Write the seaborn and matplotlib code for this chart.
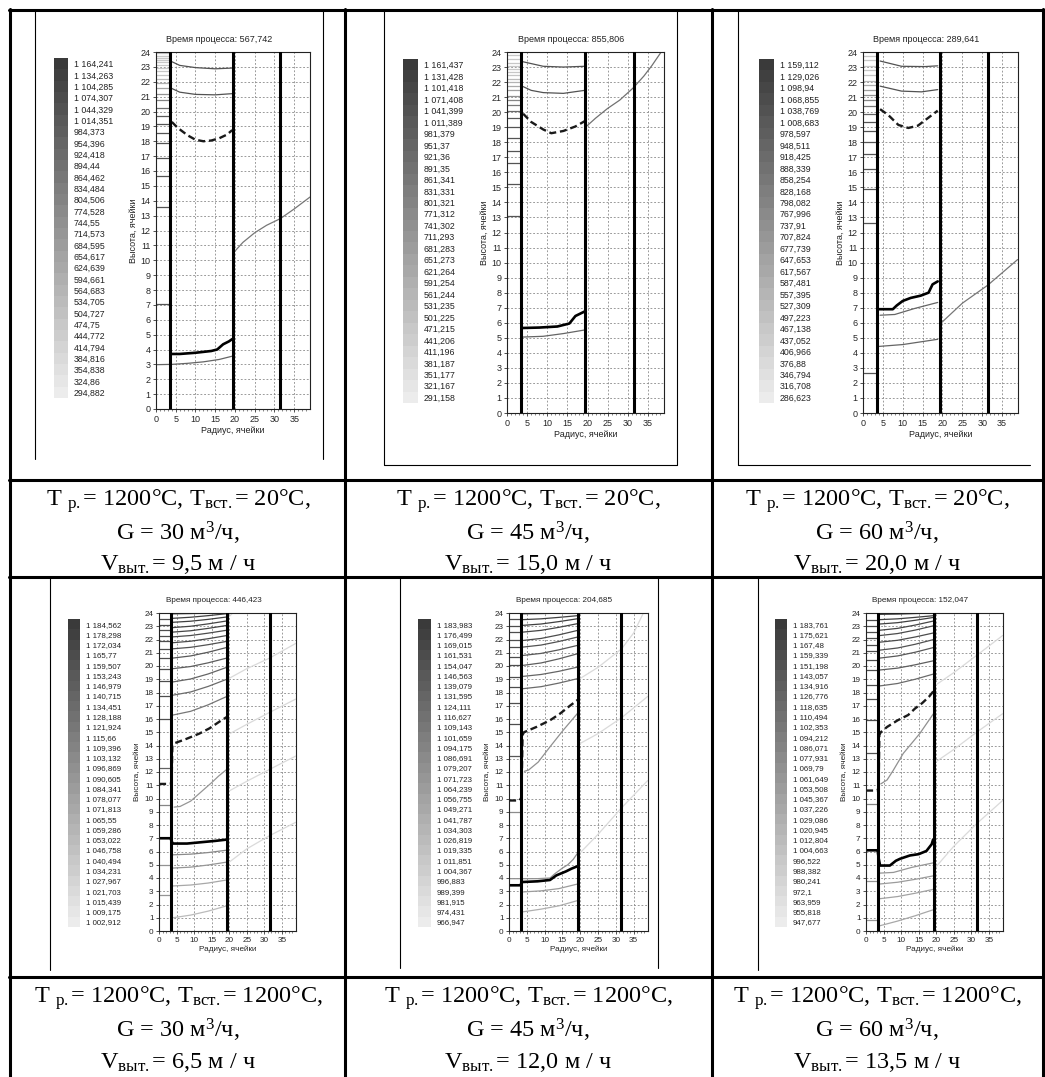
import numpy as np
import matplotlib
matplotlib.use("Agg")
import matplotlib.pyplot as plt
from matplotlib.colors import LinearSegmentedColormap
import seaborn as sns

## --- style first, fonts after set_theme (it resets font.family)
sns.set_theme(style="white")
plt.rcParams["font.family"] = ["Liberation Sans", "DejaVu Sans"]
plt.rcParams["mathtext.fontset"] = "custom"
plt.rcParams["mathtext.rm"] = "Liberation Serif"
plt.rcParams["mathtext.it"] = "Liberation Serif:italic"
plt.rcParams["mathtext.bf"] = "Liberation Serif:bold"

#########################################################################
################################ DATA ###################################
#########################################################################

## --- process times shown over every chart
times = ["567,742", "855,806", "289,641", "446,423", "204,685", "152,047"]

## --- colour scale labels (top = hottest)
cb_1 = ["1 164,241", "1 134,263", "1 104,285", "1 074,307", "1 044,329", "1 014,351",
        "984,373", "954,396", "924,418", "894,44", "864,462", "834,484", "804,506",
        "774,528", "744,55", "714,573", "684,595", "654,617", "624,639", "594,661",
        "564,683", "534,705", "504,727", "474,75", "444,772", "414,794", "384,816",
        "354,838", "324,86", "294,882"]
cb_2 = ["1 161,437", "1 131,428", "1 101,418", "1 071,408", "1 041,399", "1 011,389",
        "981,379", "951,37", "921,36", "891,35", "861,341", "831,331", "801,321",
        "771,312", "741,302", "711,293", "681,283", "651,273", "621,264", "591,254",
        "561,244", "531,235", "501,225", "471,215", "441,206", "411,196", "381,187",
        "351,177", "321,167", "291,158"]
cb_3 = ["1 159,112", "1 129,026", "1 098,94", "1 068,855", "1 038,769", "1 008,683",
        "978,597", "948,511", "918,425", "888,339", "858,254", "828,168", "798,082",
        "767,996", "737,91", "707,824", "677,739", "647,653", "617,567", "587,481",
        "557,395", "527,309", "497,223", "467,138", "437,052", "406,966", "376,88",
        "346,794", "316,708", "286,623"]
cb_4 = ["1 184,562", "1 178,298", "1 172,034", "1 165,77", "1 159,507", "1 153,243",
        "1 146,979", "1 140,715", "1 134,451", "1 128,188", "1 121,924", "1 115,66",
        "1 109,396", "1 103,132", "1 096,869", "1 090,605", "1 084,341", "1 078,077",
        "1 071,813", "1 065,55", "1 059,286", "1 053,022", "1 046,758", "1 040,494",
        "1 034,231", "1 027,967", "1 021,703", "1 015,439", "1 009,175", "1 002,912"]
cb_5 = ["1 183,983", "1 176,499", "1 169,015", "1 161,531", "1 154,047", "1 146,563",
        "1 139,079", "1 131,595", "1 124,111", "1 116,627", "1 109,143", "1 101,659",
        "1 094,175", "1 086,691", "1 079,207", "1 071,723", "1 064,239", "1 056,755",
        "1 049,271", "1 041,787", "1 034,303", "1 026,819", "1 019,335", "1 011,851",
        "1 004,367", "996,883", "989,399", "981,915", "974,431", "966,947"]
cb_6 = ["1 183,761", "1 175,621", "1 167,48", "1 159,339", "1 151,198", "1 143,057",
        "1 134,916", "1 126,776", "1 118,635", "1 110,494", "1 102,353", "1 094,212",
        "1 086,071", "1 077,931", "1 069,79", "1 061,649", "1 053,508", "1 045,367",
        "1 037,226", "1 029,086", "1 020,945", "1 012,804", "1 004,663", "996,522",
        "988,382", "980,241", "972,1", "963,959", "955,818", "947,677"]

## --- wall positions (radius, cells)
walls = [3.5, 19.4, 31.5]

## --- isoline stubs inside the narrow zone (heights)
stubs_1 = [7.05, 13.55, 15.65, 16.9, 17.85, 18.55, 19.15, 19.7, 20.25, 20.75, 21.15,
           21.55, 21.9, 22.2, 22.45, 22.7, 22.9, 23.1, 23.3, 23.45, 23.6, 23.75, 23.9]
stubs_2 = [13.1, 15.25, 16.6, 17.4, 18.3, 19.0, 19.6, 20.05, 20.5, 20.8, 21.1, 21.45,
           21.75, 22.0, 22.2, 22.45, 22.7, 22.9, 23.1, 23.3, 23.55, 23.8]
stubs_3 = [2.65, 12.65, 14.9, 16.25, 17.25, 18.0, 18.75, 19.35, 19.9, 20.4, 20.8,
           21.15, 21.45, 21.8, 22.1, 22.45, 22.8, 23.1, 23.45, 23.75]
stubs_4 = [2.75, 5.0, 9.5, 12.3, 16.0, 17.7, 18.9, 19.8, 20.6, 21.25, 21.85, 22.25,
           22.7, 23.1, 23.55]
stubs_5 = [9.0, 13.2, 15.6, 17.2, 18.4, 19.2, 20.05, 20.7, 21.4, 21.95, 22.55, 23.05,
           23.55]
stubs_6 = [0.85, 3.78, 9.6, 13.4, 15.9, 17.5, 18.6, 19.7, 20.45, 21.1, 21.6, 22.15,
           22.6, 23.05, 23.5]

## --- thin isolines: (colour level 0..29, radius, height)
span = [4.0, 9.0, 14.0, 19.3]

thin_1 = [
    (4, [4.0, 6.0, 10.0, 15.0, 19.3], [23.35, 23.1, 22.95, 22.87, 22.92]),
    (4, [4.0, 6.0, 10.0, 15.0, 19.3], [21.55, 21.3, 21.15, 21.12, 21.2]),
    (7, [0.0, 4.0, 8.0, 12.0, 16.0, 19.3], [2.98, 3.0, 3.07, 3.17, 3.33, 3.55]),
    (10, [19.6, 22.0, 25.0, 28.0, 31.5, 35.0, 39.0], [10.5, 11.2, 11.85, 12.35, 12.8, 13.45, 14.25]),
]
thin_2 = [
    (4, [4.0, 9.0, 14.0, 19.3], [23.35, 23.05, 23.0, 23.05]),
    (4, [4.0, 6.0, 9.0, 14.0, 19.3], [21.7, 21.45, 21.3, 21.25, 21.45]),
    (7, [4.0, 9.0, 14.0, 19.3], [5.05, 5.1, 5.28, 5.52]),
    (9, [19.5, 22.0, 25.0, 28.0, 31.3, 34.0, 36.0, 38.3], [19.0, 19.6, 20.25, 20.8, 21.6, 22.4, 23.1, 24.0]),
]
thin_3 = [
    (4, [4.3, 9.7, 15.5, 18.8], [23.4, 23.05, 23.03, 23.08]),
    (4, [4.3, 9.7, 14.7, 18.8], [21.73, 21.4, 21.35, 21.5]),
    (7, [4.3, 8.0, 13.0, 18.8], [6.5, 6.55, 6.95, 7.35]),
    (7, [3.7, 10.0, 18.8], [4.42, 4.55, 4.9]),
    (10, [19.6, 25.0, 31.4, 38.9], [5.97, 7.3, 8.5, 10.2]),
]
thin_4 = [
    (0, span, [23.94, 23.96, 23.98, 24.0]),
    (1, span, [23.6, 23.68, 23.8, 23.95]),
    (1, span, [23.3, 23.38, 23.52, 23.7]),
    (2, span, [22.9, 23.0, 23.18, 23.4]),
    (2, span, [22.56, 22.66, 22.84, 23.06]),
    (3, span, [22.2, 22.3, 22.48, 22.7]),
    (3, span, [21.76, 21.87, 22.06, 22.3]),
    (4, span, [21.3, 21.41, 21.61, 21.86]),
    (5, span, [20.6, 20.76, 21.04, 21.4]),
    (6, span, [19.8, 19.96, 20.24, 20.6]),
    (7, span, [18.8, 19.02, 19.4, 19.9]),
    (8, span, [17.8, 18.04, 18.46, 19.0]),
    (10, span, [16.3, 16.58, 17.07, 17.7]),
    (15, [4.3, 6.0, 9.0, 12.0, 15.0, 17.0, 19.3], [9.35, 9.4, 9.8, 10.5, 11.2, 11.7, 12.2]),
    (13, span, [5.75, 5.8, 5.92, 6.1]),
    (15, span, [4.75, 4.82, 4.98, 5.2]),
    (18, span, [3.4, 3.47, 3.62, 3.85]),
    (21, span, [1.0, 1.2, 1.5, 1.9]),
    (26, [19.5, 21.0], [23.6, 24.0]),
    (26, [19.5, 25.0, 31.5, 38.9], [19.0, 19.8, 20.6, 21.7]),
    (26, [19.5, 25.0, 31.5, 38.9], [14.8, 15.6, 16.5, 17.5]),
    (26, [19.5, 25.0, 31.5, 38.9], [10.5, 11.3, 12.2, 13.2]),
    (26, [19.5, 25.0, 31.5, 38.9], [5.1, 6.2, 7.2, 8.2]),
]
thin_5 = [
    (0, span, [23.94, 23.96, 23.98, 24.0]),
    (1, span, [23.5, 23.56, 23.67, 23.8]),
    (1, span, [23.07, 23.17, 23.35, 23.57]),
    (2, span, [22.56, 22.69, 22.92, 23.2]),
    (3, span, [21.93, 22.08, 22.35, 22.69]),
    (4, span, [21.43, 21.58, 21.85, 22.19]),
    (5, span, [20.8, 20.95, 21.22, 21.56]),
    (6, span, [20.05, 20.23, 20.54, 20.93]),
    (7, span, [19.22, 19.36, 19.6, 19.92]),
    (8, span, [18.29, 18.44, 18.71, 19.05]),
    (14, [4.3, 5.5, 8.2, 11.5, 15.2, 19.3], [12.05, 12.15, 12.75, 13.9, 15.15, 16.45]),
    (14, [0.0, 4.0, 8.0, 11.5, 13.0, 15.0, 16.5, 18.0, 19.3], [3.95, 3.95, 3.95, 4.0, 4.35, 4.75, 5.0, 5.4, 5.9]),
    (16, span, [2.95, 3.03, 3.2, 3.55]),
    (19, span, [1.45, 1.65, 1.9, 2.3]),
    (26, [19.6, 25.0, 31.6, 35.0, 37.7], [19.0, 19.9, 21.3, 22.5, 24.0]),
    (26, [19.6, 25.0, 31.6, 38.9], [14.1, 14.9, 16.1, 17.7]),
    (26, [19.6, 25.0, 31.6, 38.9], [5.8, 7.3, 9.3, 11.35]),
]
thin_6 = [
    (0, span, [23.9, 23.92, 23.96, 24.0]),
    (1, span, [23.5, 23.56, 23.67, 23.8]),
    (1, span, [23.17, 23.27, 23.45, 23.67]),
    (2, span, [22.7, 22.84, 23.09, 23.4]),
    (3, span, [22.3, 22.45, 22.71, 23.04]),
    (3, span, [21.8, 21.94, 22.19, 22.5]),
    (4, span, [21.2, 21.36, 21.64, 22.0]),
    (5, span, [20.6, 20.76, 21.04, 21.4]),
    (6, span, [19.7, 19.84, 20.09, 20.4]),
    (8, span, [18.5, 18.68, 19.0, 19.4]),
    (14, [4.2, 6.0, 7.7, 10.6, 15.3, 19.2], [11.1, 11.4, 12.1, 13.4, 14.9, 16.4]),
    (15, [4.0, 7.8, 13.0, 19.1], [4.37, 4.42, 4.8, 5.14]),
    (16, [4.0, 9.0, 14.0, 19.1], [3.55, 3.68, 3.9, 4.16]),
    (17, [4.0, 9.0, 14.0, 19.1], [2.44, 2.6, 2.85, 3.14]),
    (18, [4.0, 9.0, 14.0, 19.1], [0.4, 0.75, 1.15, 1.6]),
    (26, [19.5, 25.0, 31.5, 38.9], [18.5, 19.5, 20.8, 22.3]),
    (26, [19.5, 25.0, 31.5, 38.9], [12.7, 13.7, 15.0, 16.4]),
    (26, [19.3, 25.0, 31.5, 38.9], [4.65, 6.4, 8.1, 9.85]),
]

## --- bold isoline
bold_1 = ([3.8, 6.0, 10.0, 14.0, 15.5, 17.0, 18.5, 19.3], [3.7, 3.7, 3.78, 3.9, 4.0, 4.35, 4.55, 4.7])
bold_2 = ([3.6, 8.0, 12.5, 15.5, 17.0, 19.3], [5.65, 5.68, 5.75, 5.95, 6.45, 6.75])
bold_3 = ([3.7, 7.5, 8.5, 10.0, 12.0, 14.5, 16.5, 17.5, 18.8], [6.9, 6.9, 7.15, 7.45, 7.65, 7.8, 8.0, 8.55, 8.75])
bold_4 = ([0.0, 3.3, 3.6, 4.0, 8.0, 12.0, 16.0, 19.3], [7.0, 7.0, 6.75, 6.6, 6.6, 6.7, 6.8, 6.9])
bold_5 = ([0.0, 3.3, 3.5, 4.0, 8.0, 11.5, 13.3, 16.0, 17.5, 19.3], [3.45, 3.45, 3.7, 3.7, 3.75, 3.85, 4.2, 4.5, 4.7, 4.9])
bold_6 = ([0.0, 3.3, 3.6, 4.0, 6.8, 8.5, 9.7, 12.5, 15.0, 17.2, 18.7, 19.1], [6.09, 6.09, 5.5, 4.94, 4.94, 5.3, 5.45, 5.7, 5.8, 6.04, 6.55, 6.9])

## --- dashed isoline
dash_1 = ([4.0, 5.5, 8.0, 10.0, 12.0, 14.0, 16.0, 18.0, 19.3], [19.3, 18.9, 18.4, 18.1, 18.0, 18.05, 18.2, 18.45, 18.75])
dash_2 = ([4.0, 6.0, 9.0, 11.0, 14.0, 17.0, 19.3], [19.9, 19.35, 18.85, 18.6, 18.75, 19.05, 19.4])
dash_3 = ([4.3, 6.4, 8.9, 11.4, 13.8, 16.3, 18.8], [20.2, 19.8, 19.15, 18.95, 19.1, 19.6, 20.1])
dash_4 = ([0.0, 3.3, 3.6, 3.8, 4.2, 7.8, 11.5, 14.4, 17.2, 19.3], [11.1, 11.1, 11.3, 14.0, 14.15, 14.5, 14.9, 15.3, 15.8, 16.15])
dash_5 = ([0.0, 3.0, 3.5, 3.8, 4.2, 7.7, 11.5, 14.3, 17.1, 19.3], [9.85, 9.85, 10.1, 14.8, 15.0, 15.4, 15.9, 16.4, 17.0, 17.45])
dash_6 = ([0.0, 3.3, 3.6, 3.8, 4.2, 6.0, 9.0, 12.0, 14.0, 16.0, 18.0, 19.2], [10.6, 10.6, 10.9, 14.8, 15.0, 15.4, 15.9, 16.3, 16.8, 17.2, 17.7, 18.1])

## --- captions under the charts
cap_1 = ["T $_{\\mathrm{р.}}$= 1200°C, T$_{\\mathrm{вст.}}$= 20°C,", "G = 30 м$^{3}$/ч,", "V$_{\\mathrm{выт.}}$= 9,5 м / ч"]
cap_2 = ["T $_{\\mathrm{р.}}$= 1200°C, T$_{\\mathrm{вст.}}$= 20°C,", "G = 45 м$^{3}$/ч,", "V$_{\\mathrm{выт.}}$= 15,0 м / ч"]
cap_3 = ["T $_{\\mathrm{р.}}$= 1200°C, T$_{\\mathrm{вст.}}$= 20°C,", "G = 60 м$^{3}$/ч,", "V$_{\\mathrm{выт.}}$= 20,0 м / ч"]
cap_4 = ["T $_{\\mathrm{р.}}$= 1200°C, T$_{\\mathrm{вст.}}$= 1200°C,", "G = 30 м$^{3}$/ч,", "V$_{\\mathrm{выт.}}$= 6,5 м / ч"]
cap_5 = ["T $_{\\mathrm{р.}}$= 1200°C, T$_{\\mathrm{вст.}}$= 1200°C,", "G = 45 м$^{3}$/ч,", "V$_{\\mathrm{выт.}}$= 12,0 м / ч"]
cap_6 = ["T $_{\\mathrm{р.}}$= 1200°C, T$_{\\mathrm{вст.}}$= 1200°C,", "G = 60 м$^{3}$/ч,", "V$_{\\mathrm{выт.}}$= 13,5 м / ч"]

#########################################################################
############################### LAYOUT ##################################
#########################################################################

W, H = 1045, 1077
fig = plt.figure(figsize=(W / 100, H / 100), dpi=100)

def box(l, t, r, b):
    return [l / W, 1 - b / H, (r - l) / W, (b - t) / H]

## --- pixel boxes: main axes and colour bar of every panel
ax_boxes = [(156, 52, 310, 409), (507, 52, 664, 413), (863, 52, 1018, 413),
            (159, 613, 296, 931), (509, 613, 648, 931), (866, 613, 1003, 931)]
cb_boxes = [(54, 58, 68, 398), (403, 59, 418, 403), (759, 59, 774, 403),
            (68, 619, 80, 927), (418, 619, 431, 927), (775, 619, 787, 927)]
cap_x = [178, 528, 877, 178, 528, 877]
cap_y = [(501, 533, 564), (501, 533, 564), (501, 533, 564),
         (998, 1030, 1062), (998, 1030, 1062), (998, 1030, 1062)]

bar_cmap = LinearSegmentedColormap.from_list("bar", ["#ececec", "#3a3a3a"])

def level_color(k):
    return bar_cmap(1 - k / 29)

## --- table background
bg = fig.add_axes([0, 0, 1, 1])
bg.set_xlim(0, W)
bg.set_ylim(H, 0)
bg.axis("off")
for y in [10, 480, 577, 977]:
    bg.plot([9, 1044], [y, y], color="black", lw=2.2)
for x in [10, 345, 712, 1043]:
    bg.plot([x, x], [9, H], color="black", lw=2.2)
## --- frames of the pasted screenshots
frame_lw = 0.8
bg.plot([35, 35], [10, 459], color="black", lw=frame_lw)
bg.plot([323, 323], [10, 459], color="black", lw=frame_lw)
bg.plot([384, 384, 677, 677], [10, 465, 465, 10], color="black", lw=frame_lw)
bg.plot([738, 738, 1030], [10, 465, 465], color="black", lw=frame_lw)
bg.plot([50, 50], [577, 970], color="black", lw=frame_lw)
bg.plot([400, 400], [577, 968], color="black", lw=frame_lw)
bg.plot([658, 658], [577, 968], color="black", lw=frame_lw)
bg.plot([758, 758], [577, 970], color="black", lw=frame_lw)

panels = [
    (cb_1, stubs_1, thin_1, bold_1, dash_1, cap_1),
    (cb_2, stubs_2, thin_2, bold_2, dash_2, cap_2),
    (cb_3, stubs_3, thin_3, bold_3, dash_3, cap_3),
    (cb_4, stubs_4, thin_4, bold_4, dash_4, cap_4),
    (cb_5, stubs_5, thin_5, bold_5, dash_5, cap_5),
    (cb_6, stubs_6, thin_6, bold_6, dash_6, cap_6),
]

for i, (labels, stubs, thin, bold, dash, cap) in enumerate(panels):
    top = i < 3
    fs = 6.5 if top else 5.9

    ## --- colour bar as a one-column heatmap
    cax = fig.add_axes(box(*cb_boxes[i]))
    vals = np.array([float(s.replace(" ", "").replace(",", ".")) for s in labels]).reshape(-1, 1)
    sns.heatmap(vals, ax=cax, cmap=bar_cmap, cbar=False, xticklabels=False,
                yticklabels=labels, linewidths=0)
    cax.yaxis.tick_right()
    cax.tick_params(axis="y", length=0, pad=4, labelsize=fs - 0.2)
    plt.setp(cax.get_yticklabels(), rotation=0, color="#222222")
    cax.set_ylabel("")

    ## --- main chart
    l, t, r, b = ax_boxes[i]
    ax = fig.add_axes(box(l, t, r, b))
    ax.set_xlim(0, 39)
    ax.set_ylim(0, 24)
    ax.set_xticks(range(0, 36, 5))
    ax.set_xticks(range(0, 39), minor=True)
    ax.set_yticks(range(0, 25))
    ax.set_axisbelow(True)
    ax.grid(True, which="major", color="#8a8a8a", lw=0.6, ls=(0, (2.2, 2.2)))
    ax.tick_params(which="major", direction="out", length=2.5, width=0.6,
                   labelsize=fs, pad=1.5, color="#333333", bottom=True, left=True)
    ax.tick_params(which="minor", axis="x", direction="out", length=1.5, width=0.5,
                   bottom=True, color="#555555")
    for sp in ax.spines.values():
        sp.set_color("#222222")
        sp.set_linewidth(0.8)

    ## --- stubs in the narrow zone
    for h in stubs:
        if top:
            g = np.interp(h, [19.5, 22.5], [0.33, 0.78])
        else:
            g = np.interp(h, [0.0, 9.0, 14.0], [0.6, 0.55, 0.3])
        sns.lineplot(x=[0.0, walls[0]], y=[h, h], ax=ax, color=str(g), lw=0.9,
                     sort=False, estimator=None)

    ## --- thin isolines
    for k, xs, ys in thin:
        sns.lineplot(x=xs, y=ys, ax=ax, color=level_color(k), lw=0.9,
                     sort=False, estimator=None)

    sns.lineplot(x=dash[0], y=dash[1], ax=ax, color="#1a1a1a", lw=1.7,
                 linestyle=(0, (3, 1.6)), sort=False, estimator=None)
    sns.lineplot(x=bold[0], y=bold[1], ax=ax, color="black", lw=1.9,
                 sort=False, estimator=None)

    ## --- walls
    for w in walls:
        ax.axvline(w, color="black", lw=2.2, zorder=5)

    ax.set_xlabel("Радиус, ячейки", fontsize=fs, labelpad=1.5, color="#222222")
    ax.set_ylabel("Высота, ячейки", fontsize=fs, labelpad=2, color="#222222")

    cx = (l + r) / 2 - 14
    fig.text(cx / W, 1 - (t - 12) / H, "Время процесса: " + times[i], fontsize=fs,
             ha="center", va="center", color="#222222")

    ## --- caption under the chart
    for line, y in zip(cap, cap_y[i]):
        fig.text(cap_x[i] / W, 1 - y / H, line, fontsize=17.5, ha="center", va="center",
                 family="Liberation Serif", color="black")

fig.savefig("out.png", dpi=100)
